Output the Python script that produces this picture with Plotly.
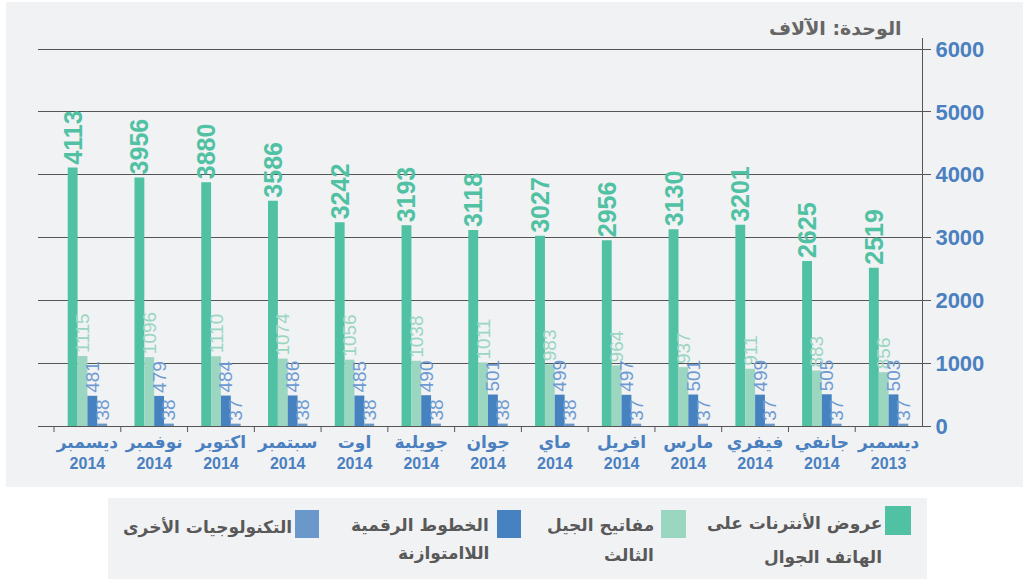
import plotly.graph_objects as go

months = ["ديسمبر", "نوفمبر", "اكتوبر", "سبتمبر", "اوت", "جويلية", "جوان",
          "ماي", "افريل", "مارس", "فيفري", "جانفي", "ديسمبر"]
years = ["2014"] * 12 + ["2013"]

mobile_internet = [4113, 3956, 3880, 3586, 3242, 3193, 3118, 3027, 2956, 3130, 3201, 2625, 2519]
keys_3g = [1115, 1096, 1110, 1074, 1056, 1038, 1011, 983, 964, 937, 911, 883, 856]
adsl = [481, 479, 484, 486, 485, 490, 501, 499, 497, 501, 499, 505, 503]
other_tech = [38, 38, 37, 38, 38, 38, 38, 38, 37, 37, 37, 37, 37]

series_names = ["عروض الأنترنات على الهاتف الجوال", "مفاتيح الجيل الثالث",
                "الخطوط الرقمية اللاامتوازنة", "التكنولوجيات الأخرى"]
bar_colors = ["#50C1A2", "#9BD6C1", "#4682C0", "#6B98CB"]
label_colors = ["#50C1A2", "#9BD6C1", "#6E9BD1", "#6E9BD1"]
label_sizes = [25, 19, 19, 19]
label_weight = ["bold", "normal", "normal", "normal"]

x_idx = list(range(len(months)))

# pixel geometry helpers (plot area 38..922 x, 38..426 y)
L, R, T, B = 38, 922, 38, 426
W, H = 1023, 579
def px(x):
    return (x - L) / (R - L)
def py(y):
    return (B - y) / (B - T)

fig = go.Figure()
for vals, name, bc, lc, ls, wt in zip(
        [mobile_internet, keys_3g, adsl, other_tech], series_names,
        bar_colors, label_colors, label_sizes, label_weight):
    fig.add_trace(go.Bar(
        x=x_idx, y=vals, name=name, marker=dict(color=bc, line=dict(width=0)),
        text=[str(v) for v in vals],
        textposition="outside", textangle=-90, constraintext="none",
        cliponaxis=False,
        textfont=dict(color=lc, size=ls, weight=wt, family="Liberation Sans, Arial"),
        showlegend=False, hoverinfo="skip"))

ticktext = [f"<span style='font-size:17px'><b>{m}</b></span><br><b>{y}</b>"
            for m, y in zip(months, years)]

bg = "#F1F2F4"
shapes = [
    dict(type="rect", xref="paper", yref="paper", layer="below",
         x0=px(6), x1=px(1030), y0=py(487), y1=py(2),
         fillcolor=bg, line=dict(width=0)),
    dict(type="rect", xref="paper", yref="paper", layer="below",
         x0=px(108), x1=px(927), y0=py(585), y1=py(498),
         fillcolor=bg, line=dict(width=0)),
]

annotations = [
    dict(text="<b>الوحدة: الآلاف</b>", xref="paper", yref="paper",
         x=px(904), y=py(28), xanchor="right", yanchor="middle", showarrow=False,
         font=dict(size=19, color="#666666", family="DejaVu Sans"))
]

legend_items = [
    (bar_colors[0], (885, 911, 506, 535), ["عروض الأنترنات على", "الهاتف الجوال"], 884, [523, 557]),
    (bar_colors[1], (661, 686, 510, 538), ["مفاتيح الجيل", "الثالث"], 656, [525, 555]),
    (bar_colors[2], (497, 521, 510, 538), ["الخطوط الرقمية", "اللاامتوازنة"], 491, [525, 553]),
    (bar_colors[3], (295, 319, 510, 538), ["التكنولوجيات الأخرى"], 294, [527]),
]
for col, (x0, x1, y0, y1), lines, xr, ys in legend_items:
    shapes.append(dict(type="rect", xref="paper", yref="paper",
                       x0=px(x0), x1=px(x1), y0=py(y1), y1=py(y0),
                       fillcolor=col, line=dict(width=0)))
    for t, yy in zip(lines, ys):
        annotations.append(dict(text=f"<b>{t}</b>", xref="paper", yref="paper",
                                x=px(xr), y=py(yy), xanchor="right", yanchor="middle",
                                showarrow=False,
                                font=dict(size=17, color="#595959", family="DejaVu Sans")))

fig.update_layout(
    width=W, height=H,
    margin=dict(l=L, r=W - R, t=T, b=H - B, pad=0),
    paper_bgcolor="white", plot_bgcolor="rgba(0,0,0,0)",
    barmode="group", bargap=0.41, bargroupgap=0,
    shapes=shapes, annotations=annotations,
    xaxis=dict(
        type="linear", range=[-0.74, 12.5], tickmode="array",
        tickvals=x_idx, ticktext=ticktext, showgrid=False, zeroline=False,
        showline=True, linecolor="#555555", linewidth=1,
        ticks="", tickfont=dict(size=16, color="#4A80C0", family="Liberation Sans, DejaVu Sans"),
        ticklabelstandoff=2,
    ),
    yaxis=dict(
        side="right", range=[0, 6175], tickvals=[0, 1000, 2000, 3000, 4000, 5000, 6000],
        showgrid=True, gridcolor="#555555", gridwidth=1, zeroline=False,
        showline=True, linecolor="#555555", linewidth=1,
        ticks="outside", ticklen=8, tickcolor="#555555",
        tickfont=dict(size=22, color="#4A80C0", weight="bold", family="Liberation Sans, Arial"),
    ),
    font=dict(family="Liberation Sans, DejaVu Sans"),
)

# category boundary ticks on x-axis
for i in range(len(months)):
    fig.add_shape(type="line", xref="x", yref="paper", x0=i - 0.5, x1=i - 0.5,
                  y0=0, y1=py(432), line=dict(color="#555555", width=1))

fig.write_html("out.html", config={"displayModeBar": False},
               post_script="document.body.style.margin='0';")
